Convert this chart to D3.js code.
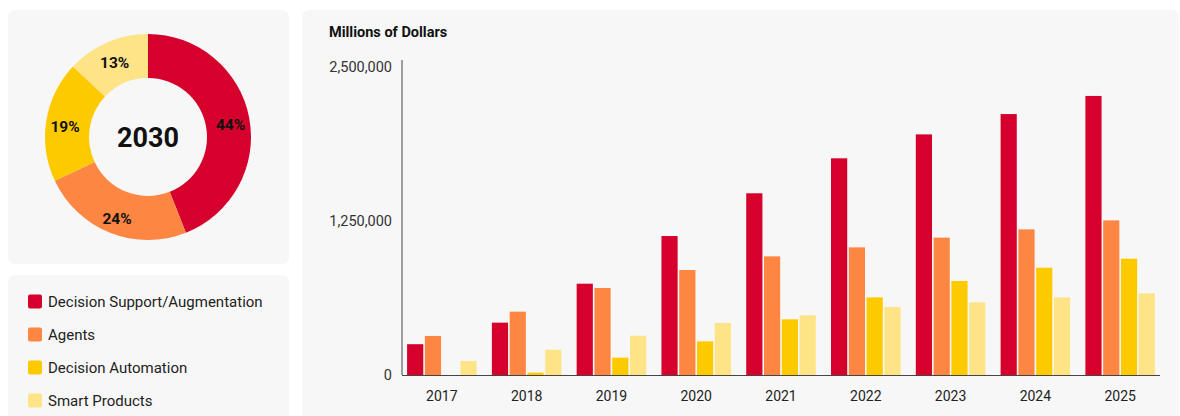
<!DOCTYPE html>
<html>
<head>
<meta charset="utf-8">
<script src="https://cdn.jsdelivr.net/npm/d3@7"></script>
<style>
  body { margin: 0; background: #fff; font-family: Roboto, "Noto Sans", sans-serif; }
  svg { display: block; }
</style>
</head>
<body>
<svg id="chart" width="1180" height="416"></svg>
<script>
// data
var years = ["2017", "2018", "2019", "2020", "2021", "2022", "2023", "2024", "2025"];
var series = ["Decision Support/Augmentation", "Agents", "Decision Automation", "Smart Products"];
var colors = ["#d6002c", "#fd8642", "#fdca00", "#fee387"];
var supportVals    = [250000, 425000, 741000, 1128000, 1475000, 1759000, 1953000, 2118000, 2265000];
var agentsVals     = [317000, 514000, 706000, 852000, 963000, 1036000, 1115000, 1182000, 1255000];
var automationVals = [0, 19000, 141000, 273000, 452000, 630000, 763000, 871000, 944000];
var productsVals   = [114000, 205000, 319000, 422000, 484000, 552000, 590000, 630000, 663000];
var yTicks = [0, 1250000, 2500000];

var share2030 = [44, 24, 19, 13];
var donutYear = "2030";

var allVals = [supportVals, agentsVals, automationVals, productsVals];

var svg = d3.select("#chart");

// panels
svg.append("rect").attr("x", 8).attr("y", 10).attr("width", 281).attr("height", 254).attr("rx", 7).attr("fill", "#f7f7f7");
svg.append("rect").attr("x", 8).attr("y", 275).attr("width", 281).attr("height", 160).attr("rx", 7).attr("fill", "#f7f7f7");
svg.append("rect").attr("x", 302).attr("y", 10).attr("width", 877).attr("height", 430).attr("rx", 7).attr("fill", "#f7f7f7");

// donut
var pie = d3.pie().sort(null).value(function(d) { return d; });
var arc = d3.arc().innerRadius(59).outerRadius(103);
var labelArc = d3.arc().innerRadius(84).outerRadius(84);

var donut = svg.append("g").attr("transform", "translate(148,137)");
donut.selectAll("path").data(pie(share2030))
  .enter().append("path")
  .attr("d", arc)
  .attr("fill", function(d, i) { return colors[i]; });

donut.selectAll("text.pct").data(pie(share2030))
  .enter().append("text")
  .attr("class", "pct")
  .attr("transform", function(d) { return "translate(" + labelArc.centroid(d) + ")"; })
  .attr("text-anchor", "middle")
  .attr("dy", "0.55em")
  .style("font-size", "15.5px")
  .style("font-weight", "bold")
  .style("fill", "#111")
  .text(function(d) { return d.data + "%"; });

donut.append("text")
  .attr("text-anchor", "middle")
  .attr("dy", "0.36em")
  .style("font-size", "27px")
  .style("font-weight", "bold")
  .style("fill", "#111")
  .text(donutYear);

// legend
var legend = svg.append("g").selectAll("g").data(series)
  .enter().append("g")
  .attr("transform", function(d, i) { return "translate(28," + (301.5 + i * 33) + ")"; });
legend.append("rect")
  .attr("x", 0).attr("y", -7).attr("width", 14).attr("height", 14).attr("rx", 2)
  .attr("fill", function(d, i) { return colors[i]; });
legend.append("text")
  .attr("x", 20).attr("dy", "0.36em")
  .style("font-size", "15px")
  .style("fill", "#222")
  .text(function(d) { return d; });

// bar chart
var x0 = d3.scaleBand().domain(years).range([402, 1160]).paddingInner(0.18).paddingOuter(0.06);
var x1 = d3.scaleBand().domain(d3.range(series.length)).range([0, x0.bandwidth()]).paddingInner(0.09);
var y = d3.scaleLinear().domain([0, 2500000]).range([375, 67]);

svg.append("text")
  .attr("x", 329).attr("y", 32).attr("dy", "0.36em")
  .style("font-size", "14.5px").style("font-weight", "bold").style("fill", "#111")
  .text("Millions of Dollars");

var groups = svg.append("g").selectAll("g").data(years)
  .enter().append("g")
  .attr("transform", function(d) { return "translate(" + x0(d) + ",0)"; });

groups.selectAll("rect")
  .data(function(d, yi) { return allVals.map(function(v, si) { return {s: si, v: v[yi]}; }); })
  .enter().append("rect")
  .attr("x", function(d) { return x1(d.s); })
  .attr("width", x1.bandwidth())
  .attr("y", function(d) { return y(d.v); })
  .attr("height", function(d) { return y(0) - y(d.v); })
  .attr("fill", function(d) { return colors[d.s]; });

var yAxis = d3.axisLeft(y).tickValues(yTicks).tickSize(0).tickPadding(10).tickFormat(d3.format(","));
var gy = svg.append("g").attr("transform", "translate(402,0)").call(yAxis);
gy.select(".domain").remove();
gy.selectAll("text").style("font-size", "14.5px").style("fill", "#333").style("font-family", "Roboto, sans-serif");
svg.append("line").attr("x1", 402).attr("x2", 402).attr("y1", 60).attr("y2", 375).attr("stroke", "#444").attr("stroke-width", 1);

var xAxis = d3.axisBottom(x0).tickSize(0).tickPadding(16);
var gx = svg.append("g").attr("transform", "translate(0,375)").call(xAxis);
gx.select(".domain").remove();
gx.selectAll("text").style("font-size", "14px").style("fill", "#222").style("font-family", "Roboto, sans-serif");
svg.append("line").attr("x1", 402).attr("x2", 1160).attr("y1", 375.5).attr("y2", 375.5).attr("stroke", "#444").attr("stroke-width", 1);
</script>
</body>
</html>
